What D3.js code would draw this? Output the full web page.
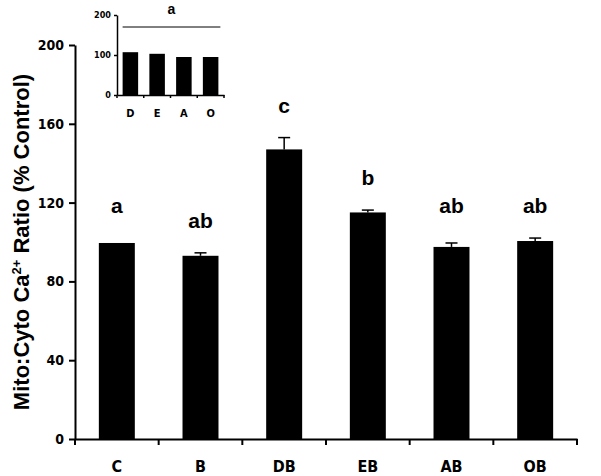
<!DOCTYPE html>
<html>
<head>
<meta charset="utf-8">
<script src="https://cdn.jsdelivr.net/npm/d3@7"></script>
<style>
  body { margin: 0; background: #fff; }
  svg { font-family: "Liberation Sans", Arial, sans-serif; font-weight: bold; }
  .cond { font-family: "DejaVu Sans Condensed", "DejaVu Sans", sans-serif; font-stretch: condensed; font-weight: bold; }
</style>
</head>
<body>
<svg id="chart" width="601" height="476"></svg>
<script>
// Main chart data
const categories = ["C", "B", "DB", "EB", "AB", "OB"]
const means = [99.5, 93, 147, 115, 97.5, 100.5]
const errors = [0, 1.5, 6, 1.2, 2, 1.5]
const letters = ["a", "ab", "c", "b", "ab", "ab"]
const letterPos = [114.7, 107, 165.5, 129, 114.7, 114.7]
const yTicks = [0, 40, 80, 120, 160, 200]

// Inset data
const insetCats = ["D", "E", "A", "O"]
const insetVals = [107, 103, 95, 95]
const insetTicks = [0, 100, 200]
const insetLetter = "a"
const insetLineVal = 170

const svg = d3.select("#chart")

// Main scales
const x = d3.scaleBand().domain(categories).range([75, 577]).paddingInner(0.57).paddingOuter(0.285)
const y = d3.scaleLinear().domain([0, 200]).range([439, 45])

const xAxis = svg.append("g")
  .attr("transform", `translate(0,${y(0)})`)
  .call(d3.axisBottom(x).tickSize(0).tickFormat(""))
xAxis.select(".domain").attr("stroke", "#000").attr("stroke-width", 2)

// x ticks between bands
const step = x.step()
d3.range(categories.length + 1).forEach(i => {
  svg.append("line")
    .attr("x1", 75 + i * step).attr("x2", 75 + i * step)
    .attr("y1", y(0)).attr("y2", y(0) + 6)
    .attr("stroke", "#000").attr("stroke-width", 2)
})

svg.selectAll(".xlab")
  .data(categories)
  .enter().append("text")
  .attr("class", "cond")
  .attr("x", d => x(d) + x.bandwidth() / 2)
  .attr("y", 472)
  .attr("text-anchor", "middle")
  .style("font-size", "16px")
  .text(d => d)

const yAxis = svg.append("g")
  .attr("transform", "translate(75,0)")
  .call(d3.axisLeft(y).tickValues(yTicks).tickSize(6).tickPadding(5).tickSizeOuter(0))
yAxis.select(".domain").attr("stroke", "#000").attr("stroke-width", 2)
yAxis.selectAll(".tick line").attr("stroke", "#000").attr("stroke-width", 2)
yAxis.selectAll(".tick text")
  .attr("class", "cond")
  .style("font-size", "14px")
  .attr("fill", "#000")

// y axis title
const yt = svg.append("text")
  .attr("transform", "translate(29,242) rotate(-90)")
  .attr("text-anchor", "middle")
  .style("font-size", "22px")
yt.append("tspan").text("Mito:Cyto Ca")
yt.append("tspan").attr("dy", -8).style("font-size", "13px").text("2+")
yt.append("tspan").attr("dy", 8).text(" Ratio (% Control)")

// bars
svg.selectAll(".bar")
  .data(categories)
  .enter().append("rect")
  .attr("x", d => x(d))
  .attr("y", (d, i) => y(means[i]))
  .attr("width", x.bandwidth())
  .attr("height", (d, i) => y(0) - y(means[i]))
  .attr("fill", "#000")

// error bars (upper only)
categories.forEach((c, i) => {
  if (errors[i] <= 0) return
  const cx = x(c) + x.bandwidth() / 2
  svg.append("line")
    .attr("x1", cx).attr("x2", cx)
    .attr("y1", y(means[i])).attr("y2", y(means[i] + errors[i]))
    .attr("stroke", "#000").attr("stroke-width", 1.5)
  svg.append("line")
    .attr("x1", cx - 6).attr("x2", cx + 6)
    .attr("y1", y(means[i] + errors[i])).attr("y2", y(means[i] + errors[i]))
    .attr("stroke", "#000").attr("stroke-width", 1.5)
})

// significance letters
svg.selectAll(".letter")
  .data(categories)
  .enter().append("text")
  .attr("x", d => x(d) + x.bandwidth() / 2)
  .attr("y", (d, i) => y(letterPos[i]))
  .attr("text-anchor", "middle")
  .style("font-size", "21px")
  .text((d, i) => letters[i])

// Inset
const ix = d3.scaleBand().domain(insetCats).range([117, 224]).paddingInner(0.42).paddingOuter(0.21)
const iy = d3.scaleLinear().domain([0, 200]).range([95, 15])

const ixAxis = svg.append("g")
  .attr("transform", `translate(0,${iy(0)})`)
  .call(d3.axisBottom(ix).tickSize(0).tickFormat(""))
ixAxis.select(".domain").attr("stroke", "#000").attr("stroke-width", 1.5)
d3.range(insetCats.length + 1).forEach(i => {
  svg.append("line")
    .attr("x1", 117 + i * ix.step()).attr("x2", 117 + i * ix.step())
    .attr("y1", iy(0)).attr("y2", iy(0) + 3)
    .attr("stroke", "#000").attr("stroke-width", 1.5)
})
svg.selectAll(".ixlab")
  .data(insetCats)
  .enter().append("text")
  .attr("class", "cond")
  .attr("x", d => ix(d) + ix.bandwidth() / 2)
  .attr("y", 117)
  .attr("text-anchor", "middle")
  .style("font-size", "11px")
  .text(d => d)

const iyAxis = svg.append("g")
  .attr("transform", "translate(117,0)")
  .call(d3.axisLeft(iy).tickValues(insetTicks).tickSize(3).tickPadding(3).tickSizeOuter(0))
iyAxis.select(".domain").attr("stroke", "#000").attr("stroke-width", 1.5)
iyAxis.selectAll(".tick line").attr("stroke", "#000").attr("stroke-width", 1.5)
iyAxis.selectAll(".tick text")
  .attr("class", "cond")
  .style("font-size", "9px")
  .attr("fill", "#000")

svg.selectAll(".ibar")
  .data(insetCats)
  .enter().append("rect")
  .attr("x", d => ix(d))
  .attr("y", (d, i) => iy(insetVals[i]))
  .attr("width", ix.bandwidth())
  .attr("height", (d, i) => iy(0) - iy(insetVals[i]))
  .attr("fill", "#000")

svg.append("line")
  .attr("x1", ix("D")).attr("x2", ix("O") + ix.bandwidth() + 2)
  .attr("y1", iy(insetLineVal)).attr("y2", iy(insetLineVal))
  .attr("stroke", "#000").attr("stroke-width", 1)

svg.append("text")
  .attr("x", (ix("D") + ix("O") + ix.bandwidth()) / 2 + 1)
  .attr("y", 14)
  .attr("text-anchor", "middle")
  .style("font-size", "14px")
  .text(insetLetter)
</script>
</body>
</html>
